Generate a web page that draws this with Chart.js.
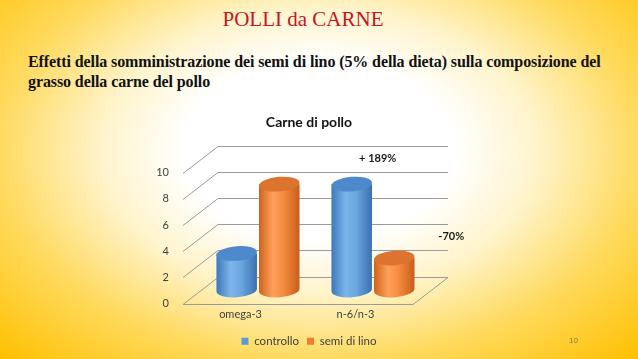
<!DOCTYPE html>
<html>
<head>
<meta charset="utf-8">
<script src="https://cdn.jsdelivr.net/npm/chart.js@4"></script>
<style>
    html, body { margin: 0; padding: 0; }
    body {
        width: 638px; height: 359px; overflow: hidden; position: relative;
        background: radial-gradient(ellipse farthest-corner at 50% 42%, #ffffff 0%, #ffffff 30%, #fff4cc 48%, #ffd95a 72%, #ffc000 100%);
    }
    #title {
        position: absolute; left: 0; top: 7px; width: 606px; text-align: center;
        font: 21px "Liberation Serif", serif; color: #c8141e;
    }
    #subtitle {
        position: absolute; left: 28px; top: 52px; width: 610px;
        font: bold 16px/20px "Liberation Serif", serif; color: #111;
        letter-spacing: -0.1px;
    }
    #pageNum {
        position: absolute; left: 569px; top: 336px;
        font: 8px "Liberation Sans", sans-serif; color: #8a7a40;
    }
    #chartBox { position: absolute; left: 0; top: 105px; width: 638px; height: 254px; }
</style>
</head>
<body>
<div id="title">POLLI da CARNE</div>
<div id="subtitle">Effetti della somministrazione dei semi di lino (5% della dieta) sulla composizione del<br>grasso della carne del pollo</div>
<div id="chartBox"><canvas id="chart"></canvas></div>
<div id="pageNum">10</div>

<script>
// Valori
const categories = ['omega-3', 'n-6/n-3'];
const seriesNames = ['controllo', 'semi di lino'];
const controllo = [2.8, 8.1];
const semiDiLino = [8.1, 2.45];
const yTicks = [0, 2, 4, 6, 8, 10];
const noteTexts = ['+ 189%', '-70%'];

// profondità della vista 3D
const depthX = 35;
const depthY = -27;

const palette = {
    blue: { fill: '#5b9bd5', stops: ['#3c78bb', '#7db6eb', '#69a5df', '#3a70b0'], cap: '#4e8acb' },
    orange: { fill: '#ed7d31', stops: ['#cf631e', '#ffa05a', '#f58a3d', '#c75d1b'], cap: '#dc7430' }
};

const gridPlugin = {
    id: 'grid3d',
    beforeDatasetsDraw(chart) {
        const ctx = chart.ctx;
        const area = chart.chartArea;
        const yScale = chart.scales.y;
        ctx.save();
        ctx.strokeStyle = '#9a9a9a';
        ctx.lineWidth = 1;
        yTicks.forEach(v => {
            const y = Math.round(yScale.getPixelForValue(v)) + 0.5;
            ctx.beginPath();
            ctx.moveTo(area.left, y);
            ctx.lineTo(area.left + depthX, y + depthY);
            ctx.lineTo(area.right + depthX, y + depthY);
            ctx.stroke();
        });
        // pavimento
        const y0 = Math.round(yScale.getPixelForValue(0)) + 0.5;
        ctx.beginPath();
        ctx.moveTo(area.left, y0);
        ctx.lineTo(area.right, y0);
        ctx.lineTo(area.right + depthX, y0 + depthY);
        ctx.stroke();
        ctx.restore();

        // cilindri
        chart.data.datasets.forEach((ds, i) => {
            const meta = chart.getDatasetMeta(i);
            const col = i === 0 ? palette.blue : palette.orange;
            meta.data.forEach(el => {
                drawCylinder(ctx, el, col);
            });
        });
        return false;
    },
    afterDraw(chart) {
        const ctx = chart.ctx;
        const blue = chart.getDatasetMeta(0).data[1];
        const orange = chart.getDatasetMeta(1).data[1];
        ctx.save();
        ctx.font = 'bold 11px Lato, "Open Sans", sans-serif';
        ctx.fillStyle = '#1a1a1a';
        ctx.textAlign = 'center';
        ctx.textBaseline = 'middle';
        ctx.fillText(noteTexts[0], blue.x + depthX / 2 + 26, blue.y + depthY / 2 - 26);
        ctx.fillText(noteTexts[1], orange.x + depthX / 2 + 57, orange.y + depthY / 2 - 22);
        ctx.restore();
    }
};

function drawCylinder(ctx, el, col) {
    const cx = el.x + depthX / 2;
    const top = el.y + depthY / 2;
    const bot = el.base + depthY / 2;
    const rx = el.width / 2 - 1;
    const ry = rx * 0.36;
    const tilt = -0.08;

    const grad = ctx.createLinearGradient(cx - rx, 0, cx + rx, 0);
    grad.addColorStop(0, col.stops[0]);
    grad.addColorStop(0.35, col.stops[1]);
    grad.addColorStop(0.62, col.stops[2]);
    grad.addColorStop(1, col.stops[3]);

    ctx.save();
    ctx.beginPath();
    ctx.moveTo(cx - rx, top);
    ctx.lineTo(cx - rx, bot);
    ctx.ellipse(cx, bot, rx, ry, tilt, Math.PI, 0, true);
    ctx.lineTo(cx + rx, top);
    ctx.closePath();
    ctx.fillStyle = grad;
    ctx.fill();

    ctx.beginPath();
    ctx.ellipse(cx, top, rx, ry, tilt, 0, Math.PI * 2);
    ctx.fillStyle = col.cap;
    ctx.fill();
    ctx.restore();
}

const ctx = document.getElementById('chart').getContext('2d');
new Chart(ctx, {
    type: 'bar',
    data: {
        labels: categories,
        datasets: [
            { label: seriesNames[0], data: controllo, backgroundColor: palette.blue.fill },
            { label: seriesNames[1], data: semiDiLino, backgroundColor: palette.orange.fill }
        ]
    },
    options: {
        responsive: true,
        maintainAspectRatio: false,
        animation: false,
        layout: { padding: { left: 153, right: 173, top: 0, bottom: 2 } },
        datasets: { bar: { categoryPercentage: 0.74, barPercentage: 1 } },
        scales: {
            x: {
                grid: { display: false, drawTicks: false },
                border: { display: false },
                ticks: { color: '#404040', font: { family: 'Lato', size: 11 }, padding: 4 },
                afterFit(scale) { scale.height = 24; }
            },
            y: {
                min: 0,
                max: 10,
                grid: { display: false, drawTicks: false },
                border: { display: false },
                ticks: {
                    stepSize: 2,
                    color: '#404040',
                    font: { family: 'Lato', size: 11 },
                    padding: 14
                },
                afterFit(scale) { scale.width = 30; }
            },
            // spazio vuoto a destra per la profondità 3D
            yDepth: {
                position: 'right',
                display: true,
                grid: { display: false, drawTicks: false },
                border: { display: false },
                ticks: { display: false },
                afterFit(scale) { scale.width = 52; }
            }
        },
        plugins: {
            title: {
                display: true,
                text: 'Carne di pollo',
                color: '#111',
                font: { family: 'Lato', size: 14, weight: 'bold' },
                padding: { top: 9, bottom: 42 }
            },
            legend: {
                position: 'bottom',
                labels: {
                    color: '#404040',
                    font: { family: 'Lato', size: 11.5 },
                    boxWidth: 7,
                    boxHeight: 7,
                    padding: 8
                }
            },
            tooltip: { enabled: false }
        }
    },
    plugins: [gridPlugin]
});
</script>
</body>
</html>
